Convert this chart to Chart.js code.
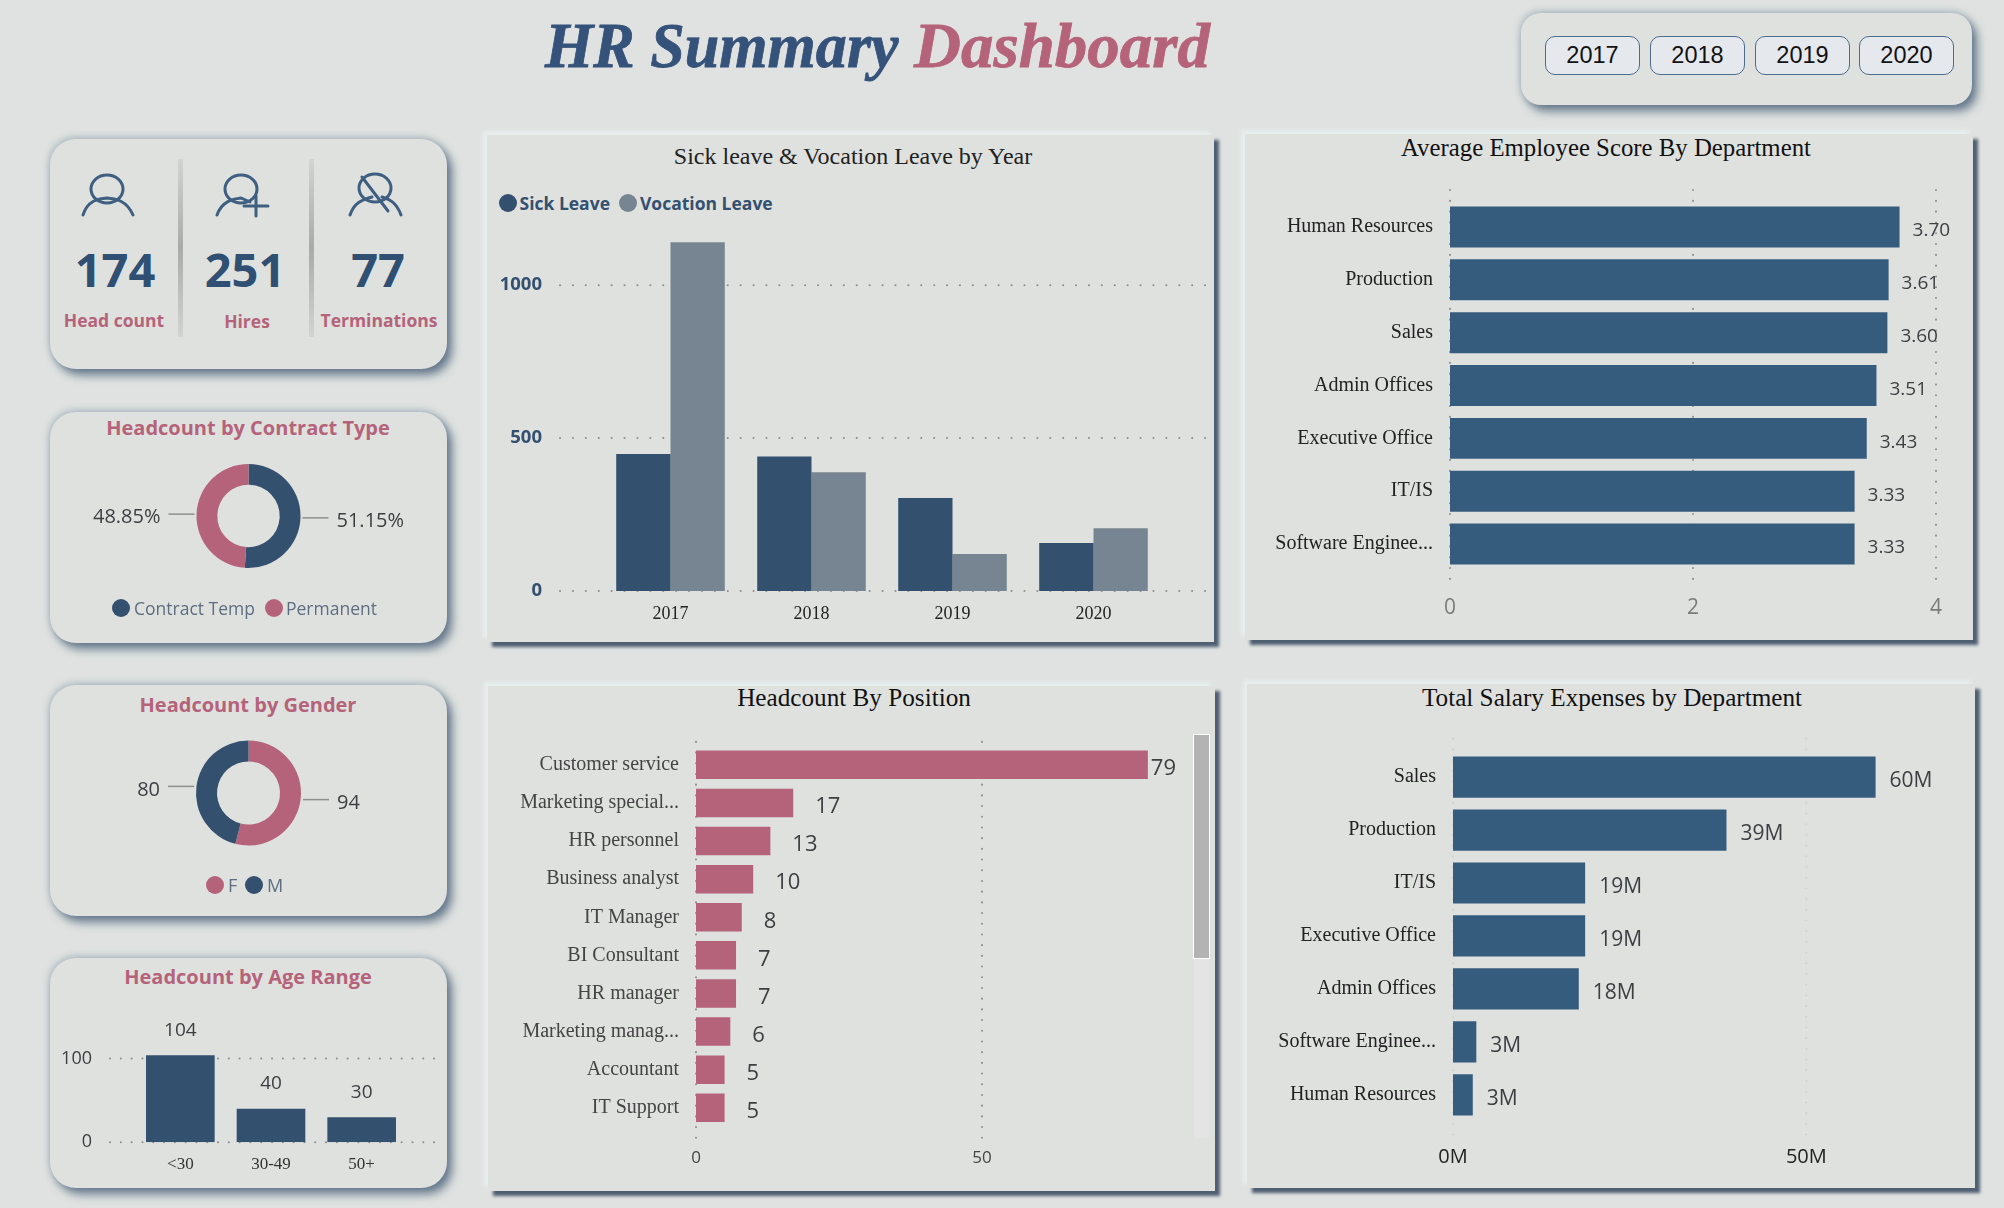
<!DOCTYPE html>
<html>
<head>
<meta charset="utf-8">
<title>HR Summary Dashboard</title>
<script src="https://cdn.jsdelivr.net/npm/chart.js"></script>
<style>
    html, body { margin: 0; padding: 0; }
    body { width: 2004px; height: 1208px; overflow: hidden; background: #dfe2e0; position: relative; }
    .card, .panel, canvas, .txt, .dot, .sep, .btn, .track, .thumb, svg { position: absolute; }
    .card { background: #dfe1df; border-radius: 26px; box-shadow: 5px 6px 10px rgba(62,86,112,.75), -1px -2px 7px rgba(120,145,165,.45); }
    .panel { background: #dfe1df; box-shadow: 5px 5px 3px #4f5f72, -4px -4px 4px rgba(232,238,238,.95); }
    .txt { white-space: nowrap; transform: translate(-50%, -50%); }
    .txt.left { transform: translate(0, -50%); }
    .dot { border-radius: 50%; }
    .sep { width: 5px; background: linear-gradient(#d2d4d2, #a9aba9 50%, #d2d4d2); }
    .btn { background: #e5e8ed; border: 1px solid #4c6c8c; border-radius: 10px; box-sizing: border-box; color: #111; font: 23.5px 'Liberation Sans'; text-align: center; line-height: 37px; }
    .track { background: #e3e4e3; }
    .thumb { background: #b3b3b3; outline: 1px solid #fff; }
    svg { fill: none; stroke: #3f5f80; stroke-width: 3; stroke-linecap: round; }
</style>
</head>
<body>
<script>
    const years = ['2017', '2018', '2019', '2020'];
    const sickLeave = [448, 440, 304, 157];
    const vocationLeave = [1140, 388, 121, 205];
    const leaveTicks = [0, 500, 1000];

    const scoreDepartments = ['Human Resources', 'Production', 'Sales', 'Admin Offices', 'Executive Office', 'IT/IS', 'Software Enginee...'];
    const scoreValues = [3.70, 3.61, 3.60, 3.51, 3.43, 3.33, 3.33];
    const scoreTicks = [0, 2, 4];

    const positions = ['Customer service', 'Marketing special...', 'HR personnel', 'Business analyst', 'IT Manager', 'BI Consultant', 'HR manager', 'Marketing manag...', 'Accountant', 'IT Support'];
    const positionCounts = [79, 17, 13, 10, 8, 7, 7, 6, 5, 5];
    const positionTicks = [0, 50];

    const salaryDepartments = ['Sales', 'Production', 'IT/IS', 'Executive Office', 'Admin Offices', 'Software Enginee...', 'Human Resources'];
    const salaryMillions = [59.8, 38.7, 18.7, 18.7, 17.8, 3.3, 2.8];
    const salaryTicks = [0, 50];

    const contractTypes = ['Contract Temp', 'Permanent'];
    const contractCounts = [89, 85];
    const genders = ['F', 'M'];
    const genderCounts = [94, 80];
    const ageRanges = ['<30', '30-49', '50+'];
    const ageCounts = [104, 40, 30];
    const ageTicks = [0, 100];

    const kpiValues = ['174', '251', '77'];
    const kpiNames = ['Head count', 'Hires', 'Terminations'];

    const navy = '#34506f';
    const steel = '#365c7d';
    const slate = '#778491';
    const rose = '#b5637a';
    const serif = "'Liberation Serif'";
    const sans = "'Open Sans'";

    function box(cls, x, y, w, h) {
        const el = document.createElement('div');
        el.className = cls;
        el.style.cssText = `left:${x}px;top:${y}px;width:${w}px;height:${h}px`;
        document.body.appendChild(el);
        return el;
    }

    function text(str, x, y, font, color, left) {
        const el = document.createElement('div');
        el.className = left ? 'txt left' : 'txt';
        el.textContent = str;
        el.style.cssText = `left:${x}px;top:${y}px;font:${font};color:${color}`;
        document.body.appendChild(el);
        return el;
    }

    function legendItem(name, color, x, y, r, font, textColor, gap) {
        const d = box('dot', x - r, y - r, r * 2, r * 2);
        d.style.background = color;
        text(name, x + r + gap, y, font, textColor, true);
    }

    // pontilhado das grades, passa um pouco da area do grafico como no original
    const dotGrid = {
        id: 'dotGrid',
        beforeDatasetsDraw(chart, args, o) {
            const s = chart.scales[o.axis];
            const a = chart.chartArea;
            const c = chart.ctx;
            c.save();
            c.strokeStyle = o.color;
            c.lineWidth = 2;
            c.lineCap = 'round';
            c.setLineDash([0.1, o.gap]);
            s.ticks.forEach(t => {
                const p = s.getPixelForValue(t.value);
                c.beginPath();
                if (o.axis === 'y') {
                    c.moveTo(a.left - o.before, p);
                    c.lineTo(a.right + o.after, p);
                } else {
                    c.moveTo(p, a.top - o.before);
                    c.lineTo(p, a.bottom + o.after);
                }
                c.stroke();
            });
            c.restore();
        }
    };

    const barValues = {
        id: 'barValues',
        afterDatasetsDraw(chart, args, o) {
            if (!o.font) return;
            const c = chart.ctx;
            const horizontal = chart.options.indexAxis === 'y';
            const data = chart.data.datasets[0].data;
            c.save();
            c.font = o.font;
            c.fillStyle = o.color;
            c.textBaseline = 'middle';
            chart.getDatasetMeta(0).data.forEach((bar, i) => {
                const s = o.format(data[i]);
                if (horizontal) {
                    let x = bar.x + o.gap;
                    if (o.limit) x = Math.min(x, o.limit - c.measureText(s).width);
                    c.textAlign = 'left';
                    c.fillText(s, x, bar.y + o.dy);
                } else {
                    c.textAlign = 'center';
                    c.fillText(s, bar.x, bar.y - o.gap);
                }
            });
            c.restore();
        }
    };

    // linhas e rotulos das roscas
    const callouts = {
        id: 'callouts',
        afterDatasetsDraw(chart, args, o) {
            if (!o.format) return;
            const c = chart.ctx;
            const data = chart.data.datasets[0].data;
            const total = data.reduce((a, b) => a + b, 0);
            c.save();
            c.font = o.font;
            c.textBaseline = 'middle';
            chart.getDatasetMeta(0).data.forEach((arc, i) => {
                const mid = (arc.startAngle + arc.endAngle) / 2;
                const y = arc.y + arc.outerRadius * Math.sin(mid);
                const dir = Math.cos(mid) > 0 ? 1 : -1;
                c.strokeStyle = '#8c8f8e';
                c.lineWidth = 1.5;
                c.beginPath();
                c.moveTo(arc.x + dir * (arc.outerRadius + 2), y);
                c.lineTo(arc.x + dir * (arc.outerRadius + 28), y);
                c.stroke();
                c.fillStyle = '#3c3f42';
                c.textAlign = dir > 0 ? 'left' : 'right';
                c.fillText(o.format(data[i], total), arc.x + dir * (arc.outerRadius + 36), y + 3.5);
            });
            c.restore();
        }
    };

    Chart.register(dotGrid, barValues, callouts);

    function mkCanvas(p) {
        const cv = document.createElement('canvas');
        cv.width = p.w;
        cv.height = p.h;
        cv.style.left = p.x + 'px';
        cv.style.top = p.y + 'px';
        document.body.appendChild(cv);
        return cv.getContext('2d');
    }

    // o eixo ocupa toda a margem, assim a area de plotagem fica onde queremos
    function sizedAxis(axis, size) {
        axis.afterFit = s => {
            if (s.isHorizontal()) s.height = size; else s.width = size;
            s.paddingLeft = s.paddingRight = s.paddingTop = s.paddingBottom = 0;
        };
        return axis;
    }

    function catAxis(font, color, padding) {
        return {
            grid: { display: false, drawTicks: false },
            border: { display: false },
            ticks: { font: font, color: color, padding: padding, autoSkip: false, maxRotation: 0 }
        };
    }

    function valAxis(max, tickValues, font, color, padding, suffix) {
        return {
            min: 0, max: max,
            afterBuildTicks: s => { s.ticks = tickValues.map(v => ({ value: v })); },
            grid: { display: false, drawTicks: false },
            border: { display: false },
            ticks: { font: font, color: color, padding: padding, callback: v => v + (suffix || '') }
        };
    }

    function barChart(p, a, cfg) {
        const horizontal = cfg.horizontal;
        const leftSize = a.l - p.x;
        const bottomSize = p.y + p.h - a.b;
        const scales = horizontal
            ? { y: sizedAxis(cfg.cat, leftSize), x: sizedAxis(cfg.val, bottomSize) }
            : { x: sizedAxis(cfg.cat, bottomSize), y: sizedAxis(cfg.val, leftSize) };
        new Chart(mkCanvas(p), {
            type: 'bar',
            data: { labels: cfg.labels, datasets: cfg.datasets },
            options: {
                indexAxis: horizontal ? 'y' : 'x',
                responsive: false,
                animation: false,
                layout: { padding: { top: a.t - p.y, right: p.x + p.w - a.r, left: 0, bottom: 0 } },
                scales: scales,
                plugins: {
                    legend: { display: false },
                    tooltip: { enabled: false },
                    dotGrid: cfg.grid,
                    barValues: cfg.values || {},
                    callouts: {}
                }
            }
        });
    }

    function donut(p, a, labels, data, colors, callout) {
        new Chart(mkCanvas(p), {
            type: 'doughnut',
            data: { labels: labels, datasets: [{ data: data, backgroundColor: colors, borderWidth: 0 }] },
            options: {
                responsive: false,
                animation: false,
                cutout: '60%',
                layout: { padding: { left: a.l - p.x, top: a.t - p.y, right: p.x + p.w - a.r, bottom: p.y + p.h - a.b } },
                plugins: {
                    legend: { display: false },
                    tooltip: { enabled: false },
                    dotGrid: false,
                    barValues: {},
                    callouts: callout
                }
            }
        });
    }

    // cabecalho
    const titleFont = 'italic bold 64px ' + serif;
    const titleA = text('HR Summary', 545, 46, titleFont, '#35527a', true);
    titleA.style.webkitTextStroke = '0.8px #35527a';
    titleA.style.transformOrigin = 'left center';
    titleA.style.transform = 'translate(0, -50%) scaleX(0.97)';
    const titleB = text('Dashboard', 914, 46, titleFont, rose, true);
    titleB.style.webkitTextStroke = '0.8px ' + rose;
    titleB.style.transformOrigin = 'left center';
    titleB.style.transform = 'translate(0, -50%) scaleX(1.015)';

    box('card', 1521, 13, 451, 92).style.borderRadius = '20px';
    [1545, 1650, 1755, 1859].forEach((x, i) => {
        const b = box('btn', x, 36, 95, 39);
        b.textContent = years[i];
    });

    // cartao de indicadores
    box('card', 50, 139, 397, 230);
    box('sep', 178, 159, 5, 178);
    box('sep', 309, 159, 5, 178);
    document.body.insertAdjacentHTML('beforeend', `
      <svg style="left:70px;top:165px" width="80" height="60"><ellipse cx="37" cy="24" rx="16" ry="14"/><path d="M13 50 C18 34 30 34 37 33 C44 34 56 34 63 50"/></svg>
      <svg style="left:200px;top:165px" width="80" height="60"><ellipse cx="41" cy="24" rx="16" ry="14"/><path d="M17 50 C22 36 33 34 41 33 L50 37"/><path d="M56 31 V51 M44 41 H68" /></svg>
      <svg style="left:338px;top:165px" width="80" height="60"><ellipse cx="37" cy="23" rx="16" ry="14"/><path d="M12 50 C17 35 28 34 34 32 M44 32 C50 34 58 36 63 50"/><path d="M24 12 L50 46"/></svg>`);
    [115, 245, 378].forEach((x, i) => {
        text(kpiValues[i], x, 269, 'bold 47px ' + sans, '#2f4f73');
    });
    [114, 247, 379].forEach((x, i) => {
        text(kpiNames[i], x, i === 1 ? 321 : 320, 'bold 17.5px ' + sans, rose);
    });

    // contrato
    const contractBox = { x: 50, y: 412, w: 397, h: 231 };
    box('card', contractBox.x, contractBox.y, contractBox.w, contractBox.h);
    text('Headcount by Contract Type', 248, 427, 'bold 20px ' + sans, rose);
    donut(contractBox, { l: 50, r: 447, t: 464, b: 568 }, contractTypes, contractCounts, [navy, rose], {
        font: '20px ' + sans,
        format: (v, total) => (v / total * 100).toFixed(2) + '%'
    });
    legendItem(contractTypes[0], navy, 121, 608, 9, '17.5px ' + sans, '#5d6e80', 4);
    legendItem(contractTypes[1], rose, 274, 608, 9, '17.5px ' + sans, '#5d6e80', 3);

    // genero
    const genderBox = { x: 50, y: 685, w: 397, h: 231 };
    box('card', genderBox.x, genderBox.y, genderBox.w, genderBox.h);
    text('Headcount by Gender', 248, 704, 'bold 20px ' + sans, rose);
    donut(genderBox, { l: 50, r: 447, t: 740.5, b: 845.5 }, genders, genderCounts, [rose, navy], {
        font: '20px ' + sans,
        format: v => String(v)
    });
    legendItem(genders[0], rose, 215, 885, 9, '18px ' + sans, '#5d6e80', 4);
    legendItem(genders[1], navy, 254, 885, 9, '18px ' + sans, '#5d6e80', 4);

    // idade
    const ageBox = { x: 50, y: 958, w: 397, h: 230 };
    box('card', ageBox.x, ageBox.y, ageBox.w, ageBox.h);
    text('Headcount by Age Range', 248, 976, 'bold 20px ' + sans, rose);
    barChart(ageBox, { l: 135, r: 407, t: 1030, b: 1142.3 }, {
        labels: ageRanges,
        datasets: [{ data: ageCounts, backgroundColor: navy, categoryPercentage: 0.757, barPercentage: 1 }],
        cat: catAxis({ family: serif, size: 17 }, '#333', 12),
        val: valAxis(134, ageTicks, { family: sans, size: 18 }, '#3c3f42', 43),
        grid: { axis: 'y', color: '#8e908f', gap: 10.7, before: 25, after: 35 },
        values: { font: '19px ' + sans, color: '#3c3f42', gap: 25, dy: 0, format: v => String(v) }
    });

    // licencas
    const leaveBox = { x: 487, y: 135, w: 727, h: 507 };
    box('panel', leaveBox.x, leaveBox.y, leaveBox.w, leaveBox.h);
    text('Sick leave & Vocation Leave by Year', 853, 156, '24px ' + serif, '#222');
    legendItem('Sick Leave', navy, 507.5, 203, 9, 'bold 17.5px ' + sans, navy, 3);
    legendItem('Vocation Leave', slate, 628, 203, 9, 'bold 17.5px ' + sans, navy, 3);
    barChart(leaveBox, { l: 600, r: 1164, t: 224, b: 591 }, {
        labels: years,
        datasets: [
            { data: sickLeave, backgroundColor: navy, categoryPercentage: 0.77, barPercentage: 1 },
            { data: vocationLeave, backgroundColor: slate, categoryPercentage: 0.77, barPercentage: 1 }
        ],
        cat: catAxis({ family: serif, size: 18 }, '#222', 12),
        val: valAxis(1200, leaveTicks, { family: sans, size: 18.5, weight: 'bold' }, navy, 58),
        grid: { axis: 'y', color: '#8e908f', gap: 12.8, before: 40, after: 46 }
    });

    // nota media
    const scoreBox = { x: 1245, y: 134, w: 728, h: 506 };
    box('panel', scoreBox.x, scoreBox.y, scoreBox.w, scoreBox.h);
    text('Average Employee Score By Department', 1606, 148, '24.8px ' + serif, '#111');
    barChart(scoreBox, { l: 1450, r: 1936, t: 200.5, b: 570.5 }, {
        horizontal: true,
        labels: scoreDepartments,
        datasets: [{ data: scoreValues, backgroundColor: steel, categoryPercentage: 0.775, barPercentage: 1 }],
        cat: catAxis({ family: serif, size: 20 }, '#222', 17),
        val: valAxis(4, scoreTicks, { family: sans, size: 21 }, '#7a7c7c', 25),
        grid: { axis: 'x', color: '#8e908f', gap: 10.7, before: 10.5, after: 16.5 },
        values: { font: '19px ' + sans, color: '#3c3f42', gap: 13, dy: 4, format: v => v.toFixed(2) }
    });

    // cargos
    const positionBox = { x: 488, y: 686, w: 727, h: 505 };
    box('panel', positionBox.x, positionBox.y, positionBox.w, positionBox.h);
    text('Headcount By Position', 854, 698, '25.2px ' + serif, '#111');
    barChart(positionBox, { l: 696, r: 1153.6, t: 745.8, b: 1126.8 }, {
        horizontal: true,
        labels: positions,
        datasets: [{ data: positionCounts, backgroundColor: rose, categoryPercentage: 0.748, barPercentage: 1 }],
        cat: catAxis({ family: serif, size: 20 }, '#444', 17),
        val: valAxis(80, positionTicks, { family: sans, size: 17 }, '#444', 21),
        grid: { axis: 'x', color: '#8e908f', gap: 10.6, before: 4, after: 11 },
        values: { font: '22px ' + sans, color: '#3c3f42', gap: 22, dy: 4, limit: 1176 - 488, format: v => String(v) }
    });
    box('track', 1193.5, 735, 15, 403);
    box('thumb', 1193.5, 735, 15, 223);

    // salarios
    const salaryBox = { x: 1247, y: 684, w: 728, h: 504 };
    box('panel', salaryBox.x, salaryBox.y, salaryBox.w, salaryBox.h);
    text('Total Salary Expenses by Department', 1612, 698, '25.2px ' + serif, '#111');
    barChart(salaryBox, { l: 1453, r: 1877, t: 750.6, b: 1121.3 }, {
        horizontal: true,
        labels: salaryDepartments,
        datasets: [{ data: salaryMillions, backgroundColor: steel, categoryPercentage: 0.778, barPercentage: 1 }],
        cat: catAxis({ family: serif, size: 20 }, '#222', 17),
        val: valAxis(60, salaryTicks, { family: sans, size: 20 }, '#222', 24, 'M'),
        grid: { axis: 'x', color: '#cfd2d1', gap: 10.6, before: 12, after: 17 },
        values: { font: '21px ' + sans, color: '#3c3f42', gap: 14, dy: 4, format: v => Math.round(v) + 'M' }
    });
</script>
</body>
</html>
